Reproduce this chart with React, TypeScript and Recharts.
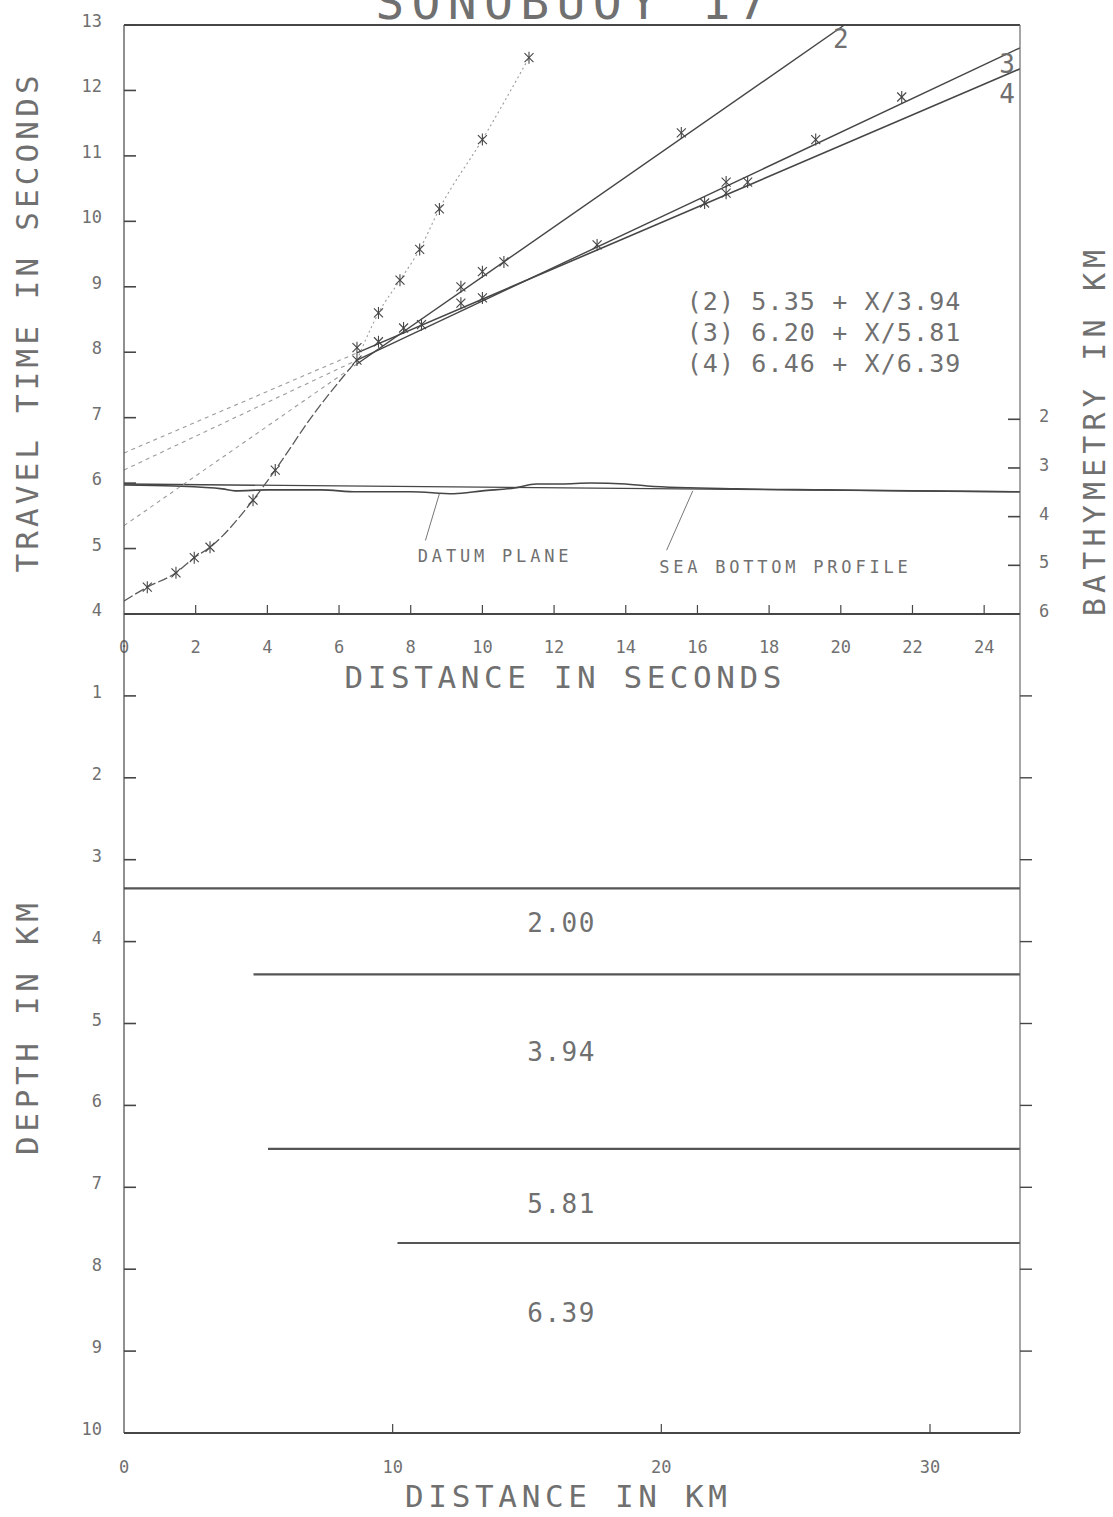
import {
  ComposedChart,
  Line,
  Scatter,
  XAxis,
  YAxis,
  ReferenceLine,
} from "recharts";

const PAGE_W = 1113;
const PAGE_H = 1517;
const INK = "#464646";
const FAINT = "#9c9c9c";
const TEXT = "#707070";
const FONT = "'DejaVu Sans Mono', 'Liberation Mono', monospace";

// --- travel-time section: distance (s) against travel time (s) ---
const SEC_TICKS = [0, 2, 4, 6, 8, 10, 12, 14, 16, 18, 20, 22, 24];
const TIME_TICKS = [4, 5, 6, 7, 8, 9, 10, 11, 12, 13];
const BATHY_TICKS = [2, 3, 4, 5, 6];

// first-arrival picks
const DIRECT_PICKS = [
  { s: 0.65, t: 4.41 },
  { s: 1.45, t: 4.63 },
  { s: 1.96, t: 4.86 },
  { s: 2.4, t: 5.02 },
  { s: 3.6, t: 5.74 },
  { s: 4.22, t: 6.2 },
  { s: 6.5, t: 7.88 },
  { s: 7.1, t: 8.6 },
  { s: 7.7, t: 9.1 },
  { s: 8.25, t: 9.57 },
  { s: 8.8, t: 10.19 },
  { s: 10.0, t: 11.25 },
  { s: 11.3, t: 12.5 },
];

// traced arrival curve: dashed close in, faint dotted past 6.5 s
const DIRECT_NEAR = [
  { s: 0, t: 4.2 },
  { s: 0.65, t: 4.41 },
  { s: 1.45, t: 4.63 },
  { s: 1.96, t: 4.86 },
  { s: 2.4, t: 5.02 },
  { s: 3.6, t: 5.74 },
  { s: 4.22, t: 6.2 },
  { s: 5.22, t: 7.0 },
  { s: 6.5, t: 7.88 },
];
const DIRECT_FAR = [
  { s: 6.5, t: 7.88 },
  { s: 7.1, t: 8.6 },
  { s: 7.7, t: 9.1 },
  { s: 8.25, t: 9.57 },
  { s: 8.8, t: 10.19 },
  { s: 10.0, t: 11.25 },
  { s: 11.3, t: 12.5 },
];

// refraction branches: intercept, start of the fitted (solid) part, end
const BRANCH_2 = [{ s: 0, t: 5.35 }, { s: 6.5, t: 7.82 }, { s: 20.1, t: 13.0 }];
const BRANCH_3 = [{ s: 0, t: 6.2 }, { s: 6.5, t: 7.88 }, { s: 25, t: 12.65 }];
const BRANCH_4 = [{ s: 0, t: 6.46 }, { s: 6.5, t: 7.99 }, { s: 25, t: 12.33 }];

const BRANCH_2_PICKS = [
  { s: 9.4, t: 9.0 },
  { s: 10.0, t: 9.23 },
  { s: 10.6, t: 9.38 },
  { s: 15.55, t: 11.35 },
];
const BRANCH_3_PICKS = [
  { s: 6.5, t: 8.07 },
  { s: 7.1, t: 8.16 },
  { s: 7.8, t: 8.37 },
  { s: 9.4, t: 8.75 },
  { s: 13.2, t: 9.64 },
  { s: 16.8, t: 10.6 },
  { s: 19.3, t: 11.25 },
  { s: 21.7, t: 11.9 },
];
const BRANCH_4_PICKS = [
  { s: 8.3, t: 8.42 },
  { s: 10.0, t: 8.83 },
  { s: 16.2, t: 10.28 },
  { s: 16.8, t: 10.43 },
  { s: 17.4, t: 10.6 },
];

const BRANCH_NAMES = [
  { label: "2", s: 20.0, t: 12.78 },
  { label: "3", s: 24.64, t: 12.41 },
  { label: "4", s: 24.64, t: 11.94 },
];
const EQUATIONS = [
  { label: "(2) 5.35 + X/3.94", s: 15.7, t: 8.77 },
  { label: "(3) 6.20 + X/5.81", s: 15.7, t: 8.3 },
  { label: "(4) 6.46 + X/6.39", s: 15.7, t: 7.83 },
];

// bathymetry (km, right-hand scale)
const SEAFLOOR = [
  { s: 0, d: 3.35 },
  { s: 1.4, d: 3.37 },
  { s: 2.75, d: 3.43 },
  { s: 3.1, d: 3.47 },
  { s: 4, d: 3.45 },
  { s: 5.5, d: 3.45 },
  { s: 6.5, d: 3.49 },
  { s: 8, d: 3.49 },
  { s: 9.2, d: 3.53 },
  { s: 10, d: 3.47 },
  { s: 10.9, d: 3.41 },
  { s: 11.5, d: 3.33 },
  { s: 12.2, d: 3.33 },
  { s: 13, d: 3.31 },
  { s: 14, d: 3.33 },
  { s: 14.6, d: 3.37 },
  { s: 17.1, d: 3.43 },
  { s: 19.6, d: 3.45 },
  { s: 22, d: 3.47 },
  { s: 25, d: 3.49 },
];
const DATUM = [{ s: 0, d: 3.33 }, { s: 25, d: 3.49 }];
const DATUM_LEADER = [{ x: 8.41, y: 4.49 }, { x: 8.8, y: 3.53 }];
const BOTTOM_LEADER = [{ x: 15.14, y: 4.69 }, { x: 15.87, y: 3.47 }];
const DATUM_NOTE = [{ label: "DATUM PLANE", s: 10.3, d: 4.8 }];
const BOTTOM_NOTE = [{ label: "SEA BOTTOM PROFILE", s: 18.4, d: 5.04 }];

// --- velocity-depth section ---
const KM_TICKS = [0, 10, 20, 30];
const DEPTH_TICKS = [1, 2, 3, 4, 5, 6, 7, 8, 9, 10];
const DEPTH_SIDE_TICKS = [1, 2, 3, 4, 5, 6, 7, 8, 9];
const KM_MAX = 33.35;
const LAYER_TOP = [3.35, 4.4, 6.53, 7.68];
const LAYER_START = [0, 4.82, 5.36, 10.18];
const VELOCITIES = ["2.00", "3.94", "5.81", "6.39"];
const VELOCITY_DEPTH = [3.77, 5.35, 7.21, 8.53];
const VELOCITY_KM = 16.26;

const Star = (p: any) => {
  const { cx, cy } = p;
  const r = 4.5;
  return (
    <g stroke={INK} strokeWidth={1.1}>
      <line x1={cx - r} y1={cy - r} x2={cx + r} y2={cy + r} />
      <line x1={cx - r} y1={cy + r} x2={cx + r} y2={cy - r} />
      <line x1={cx} y1={cy - r - 1.5} x2={cx} y2={cy + r + 1.5} />
    </g>
  );
};

// text drawn at a data point; pitch = px per character
const noteShape =
  (size: number, anchor: "start" | "middle" | "end", pitch?: number) =>
  (p: any) => {
    const label: string = p.payload.label;
    return (
      <text
        x={p.cx}
        y={p.cy}
        textAnchor={anchor}
        dominantBaseline="central"
        fontSize={size}
        fill={TEXT}
        fontFamily={FONT}
        textLength={pitch ? pitch * label.length : undefined}
        lengthAdjust="spacing"
      >
        {label}
      </text>
    );
  };

const Caption = ({ text, at, size, pitch, turn = 0 }: any) => {
  const [x, y] = at;
  return (
    <text
      x={x}
      y={y}
      transform={turn ? `rotate(${turn} ${x} ${y})` : undefined}
      textAnchor="middle"
      dominantBaseline="central"
      fontSize={size}
      fill={TEXT}
      fontFamily={FONT}
      textLength={pitch * text.length}
      lengthAdjust="spacing"
    >
      {text}
    </text>
  );
};

const tickLabel = (x: number, y: number, v: number, anchor: "start" | "middle" | "end") => (
  <text
    x={x}
    y={y}
    textAnchor={anchor}
    dominantBaseline="central"
    fontSize={17}
    fill={TEXT}
    fontFamily={FONT}
  >
    {v}
  </text>
);

// left scale: tick points into the plot, number outside
const leftTick = (p: any) => (
  <g>
    <line x1={p.x} y1={p.y} x2={p.x + 12} y2={p.y} stroke={INK} strokeWidth={1.6} />
    {tickLabel(p.x - 22, p.y - 4, p.payload.value, "end")}
  </g>
);

const bathyTick = (p: any) => (
  <g>
    <line x1={p.x} y1={p.y} x2={p.x - 12} y2={p.y} stroke={INK} strokeWidth={1.6} />
    {tickLabel(p.x + 24, p.y - 3, p.payload.value, "middle")}
  </g>
);

const sideTick = (p: any) => (
  <line x1={p.x} y1={p.y} x2={p.x + 12} y2={p.y} stroke={INK} strokeWidth={1.4} />
);

const bottomTick = (gap: number) => (p: any) => (
  <g>
    {p.payload.value !== 0 && (
      <line x1={p.x} y1={p.y} x2={p.x} y2={p.y - 9} stroke={INK} strokeWidth={1.2} />
    )}
    {tickLabel(p.x, p.y + gap, p.payload.value, "middle")}
  </g>
);

const App = () => {
  return (
    <div
      style={{
        position: "absolute",
        left: 0,
        top: 0,
        width: PAGE_W,
        height: PAGE_H,
        background: "#ffffff",
      }}
    >
      {/* travel time curves */}
      <div style={{ position: "absolute", left: 0, top: 0 }}>
        <ComposedChart
          width={PAGE_W}
          height={700}
          margin={{ top: 25, right: 33, bottom: 36, left: 60 }}
        >
          <XAxis
            type="number"
            dataKey="s"
            domain={[0, 25]}
            ticks={SEC_TICKS}
            interval={0}
            allowDataOverflow
            height={50}
            tickSize={0}
            tickMargin={0}
            tickLine={false}
            tick={bottomTick(33)}
            axisLine={{ stroke: INK, strokeWidth: 2.2 }}
            label={<Caption text="DISTANCE IN SECONDS" at={[563, 677]} size={31} pitch={23} />}
          />
          <YAxis
            yAxisId="t"
            type="number"
            dataKey="t"
            domain={[4, 13]}
            ticks={TIME_TICKS}
            interval={0}
            allowDataOverflow
            width={64}
            tickSize={0}
            tickMargin={0}
            tickLine={false}
            tick={leftTick}
            axisLine={{ stroke: INK, strokeWidth: 1.2 }}
            label={
              <Caption text="TRAVEL TIME IN SECONDS" at={[27, 324]} size={31} pitch={22.6} turn={-90} />
            }
          />
          <YAxis
            yAxisId="bathy"
            orientation="right"
            type="number"
            dataKey="d"
            domain={[-6.1, 6]}
            reversed
            ticks={BATHY_TICKS}
            interval={0}
            allowDataOverflow
            width={60}
            tickSize={0}
            tickMargin={0}
            tickLine={false}
            tick={bathyTick}
            axisLine={{ stroke: "#6a6a6a", strokeWidth: 1.2 }}
            label={
              <Caption text="BATHYMETRY IN KM" at={[1094, 433]} size={30} pitch={22.9} turn={-90} />
            }
          />

          <ReferenceLine
            yAxisId="t"
            y={13}
            stroke={INK}
            strokeWidth={2}
            label={<Caption text="SONOBUOY 17" at={[571, 2]} size={48} pitch={35.6} />}
          />

          {/* datum and sea floor */}
          <Line yAxisId="bathy" data={DATUM} dataKey="d" type="linear" stroke={INK} strokeWidth={1.4} dot={false} isAnimationActive={false} />
          <Line yAxisId="bathy" data={SEAFLOOR} dataKey="d" type="monotone" stroke={INK} strokeWidth={1.6} dot={false} isAnimationActive={false} />
          <ReferenceLine yAxisId="bathy" segment={DATUM_LEADER} stroke="#777" strokeWidth={1} />
          <ReferenceLine yAxisId="bathy" segment={BOTTOM_LEADER} stroke="#777" strokeWidth={1} />
          <Scatter yAxisId="bathy" data={DATUM_NOTE} shape={noteShape(17, "middle", 13.7)} isAnimationActive={false} />
          <Scatter yAxisId="bathy" data={BOTTOM_NOTE} shape={noteShape(17, "middle", 13.8)} isAnimationActive={false} />

          {/* back-extrapolated parts of the branches */}
          <Line yAxisId="t" data={BRANCH_2.slice(0, 2)} dataKey="t" type="linear" stroke={FAINT} strokeWidth={1.1} strokeDasharray="4 4" dot={false} isAnimationActive={false} />
          <Line yAxisId="t" data={BRANCH_3.slice(0, 2)} dataKey="t" type="linear" stroke={FAINT} strokeWidth={1.1} strokeDasharray="4 4" dot={false} isAnimationActive={false} />
          <Line yAxisId="t" data={BRANCH_4.slice(0, 2)} dataKey="t" type="linear" stroke={FAINT} strokeWidth={1.1} strokeDasharray="4 4" dot={false} isAnimationActive={false} />
          {/* fitted parts */}
          <Line yAxisId="t" data={BRANCH_2.slice(1)} dataKey="t" type="linear" stroke={INK} strokeWidth={1.4} dot={false} isAnimationActive={false} />
          <Line yAxisId="t" data={BRANCH_3.slice(1)} dataKey="t" type="linear" stroke={INK} strokeWidth={1.4} dot={false} isAnimationActive={false} />
          <Line yAxisId="t" data={BRANCH_4.slice(1)} dataKey="t" type="linear" stroke={INK} strokeWidth={1.6} dot={false} isAnimationActive={false} />

          {/* first arrivals */}
          <Line yAxisId="t" data={DIRECT_NEAR} dataKey="t" type="monotone" stroke="#5a5a5a" strokeWidth={1.3} strokeDasharray="10 3" dot={false} isAnimationActive={false} />
          <Line yAxisId="t" data={DIRECT_FAR} dataKey="t" type="monotone" stroke={FAINT} strokeWidth={1.1} strokeDasharray="2 3" dot={false} isAnimationActive={false} />

          <Scatter yAxisId="t" data={DIRECT_PICKS} shape={Star} isAnimationActive={false} />
          <Scatter yAxisId="t" data={BRANCH_2_PICKS} shape={Star} isAnimationActive={false} />
          <Scatter yAxisId="t" data={BRANCH_3_PICKS} shape={Star} isAnimationActive={false} />
          <Scatter yAxisId="t" data={BRANCH_4_PICKS} shape={Star} isAnimationActive={false} />

          <Scatter yAxisId="t" data={BRANCH_NAMES} shape={noteShape(26, "middle")} isAnimationActive={false} />
          <Scatter yAxisId="t" data={EQUATIONS} shape={noteShape(25, "start", 16.1)} isAnimationActive={false} />
        </ComposedChart>
      </div>

      {/* layered velocity model */}
      <div style={{ position: "absolute", left: 0, top: 0 }}>
        <ComposedChart
          width={PAGE_W}
          height={PAGE_H}
          margin={{ top: 614, right: 33, bottom: 34, left: 60 }}
        >
          <XAxis
            type="number"
            dataKey="km"
            domain={[0, KM_MAX]}
            ticks={KM_TICKS}
            interval={0}
            allowDataOverflow
            height={50}
            tickSize={0}
            tickMargin={0}
            tickLine={false}
            tick={bottomTick(34)}
            axisLine={{ stroke: INK, strokeWidth: 2.2 }}
            label={<Caption text="DISTANCE IN KM" at={[566, 1496]} size={31} pitch={23} />}
          />
          <YAxis
            yAxisId="dep"
            type="number"
            dataKey="d"
            domain={[0, 10]}
            reversed
            ticks={DEPTH_TICKS}
            interval={0}
            allowDataOverflow
            width={64}
            tickSize={0}
            tickMargin={0}
            tickLine={false}
            tick={leftTick}
            axisLine={{ stroke: INK, strokeWidth: 1.2 }}
            label={<Caption text="DEPTH IN KM" at={[27, 1029]} size={31} pitch={22.9} turn={-90} />}
          />
          <YAxis
            yAxisId="side"
            orientation="right"
            type="number"
            domain={[0, 10]}
            reversed
            ticks={DEPTH_SIDE_TICKS}
            interval={0}
            allowDataOverflow
            width={60}
            tickSize={0}
            tickMargin={0}
            tickLine={false}
            tick={sideTick}
            axisLine={{ stroke: "#6a6a6a", strokeWidth: 1.2 }}
          />

          {LAYER_TOP.map((d, i) => (
            <Line
              key={`layer-${i}`}
              yAxisId="dep"
              data={[
                { km: LAYER_START[i], d },
                { km: KM_MAX, d },
              ]}
              dataKey="d"
              type="linear"
              stroke="#555"
              strokeWidth={2.2}
              dot={false}
              isAnimationActive={false}
            />
          ))}
          <Scatter
            yAxisId="dep"
            data={VELOCITIES.map((label, i) => ({ label, km: VELOCITY_KM, d: VELOCITY_DEPTH[i] }))}
            shape={noteShape(26, "middle", 16.8)}
            isAnimationActive={false}
          />
        </ComposedChart>
      </div>
    </div>
  );
};

export default App;
